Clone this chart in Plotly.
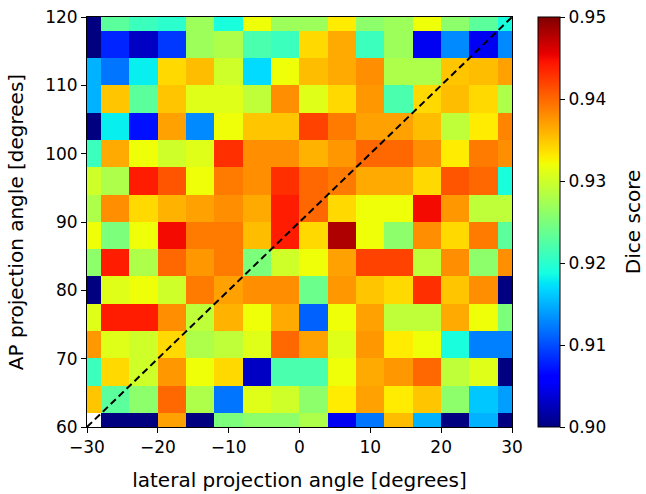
import numpy as np
import plotly.graph_objects as go

# lateral (x) and AP (y) angles of the cell centres, degrees
lateral_angles = [-30, -26, -22, -18, -14, -10, -6, -2, 2, 6, 10, 14, 18, 22, 26, 30]
ap_angles = [60, 64, 68, 72, 76, 80, 84, 88, 92, 96, 100, 104, 108, 112, 116, 120]

# dice scores, one row per AP angle (bottom row first)
dice_60 = [np.nan, 0.900, 0.900, 0.937, 0.900, 0.925, 0.926, 0.926, 0.928, 0.905, 0.912, 0.9355, 0.915, 0.900, 0.915, 0.900]
dice_64 = [0.935, 0.923, 0.926, 0.940, 0.928, 0.912, 0.931, 0.930, 0.926, 0.933, 0.937, 0.933, 0.935, 0.926, 0.916, 0.914]
dice_68 = [0.921, 0.934, 0.930, 0.9375, 0.932, 0.934, 0.903, 0.922, 0.922, 0.932, 0.9365, 0.9375, 0.940, 0.929, 0.931, 0.900]
dice_72 = [0.9375, 0.931, 0.930, 0.934, 0.928, 0.929, 0.931, 0.940, 0.937, 0.931, 0.9375, 0.933, 0.932, 0.919, 0.9125, 0.9125]
dice_76 = [0.931, 0.944, 0.944, 0.938, 0.929, 0.936, 0.932, 0.9365, 0.911, 0.932, 0.937, 0.929, 0.929, 0.9365, 0.932, 0.925]
dice_80 = [0.900, 0.931, 0.932, 0.930, 0.939, 0.937, 0.938, 0.938, 0.924, 0.9375, 0.935, 0.934, 0.943, 0.935, 0.938, 0.900]
dice_84 = [0.926, 0.944, 0.928, 0.940, 0.9375, 0.939, 0.925, 0.930, 0.932, 0.937, 0.942, 0.942, 0.929, 0.938, 0.926, 0.938]
dice_88 = [0.932, 0.925, 0.932, 0.945, 0.939, 0.939, 0.9355, 0.944, 0.934, 0.948, 0.932, 0.926, 0.938, 0.934, 0.939, 0.923]
dice_92 = [0.928, 0.938, 0.934, 0.936, 0.937, 0.938, 0.9365, 0.944, 0.940, 0.934, 0.932, 0.932, 0.945, 0.9375, 0.929, 0.929]
dice_96 = [0.930, 0.928, 0.944, 0.941, 0.932, 0.939, 0.938, 0.943, 0.940, 0.939, 0.9365, 0.9365, 0.934, 0.941, 0.940, 0.919]
dice_100 = [0.921, 0.9365, 0.932, 0.930, 0.931, 0.943, 0.938, 0.938, 0.936, 0.9375, 0.940, 0.940, 0.938, 0.933, 0.939, 0.938]
dice_104 = [0.900, 0.918, 0.907, 0.937, 0.913, 0.932, 0.935, 0.935, 0.942, 0.939, 0.937, 0.937, 0.9355, 0.929, 0.933, 0.9385]
dice_108 = [0.915, 0.935, 0.923, 0.935, 0.931, 0.931, 0.929, 0.938, 0.931, 0.934, 0.9375, 0.922, 0.934, 0.9355, 0.934, 0.928]
dice_112 = [0.915, 0.912, 0.918, 0.934, 0.9355, 0.930, 0.917, 0.932, 0.9355, 0.9365, 0.938, 0.928, 0.928, 0.935, 0.9355, 0.937]
dice_116 = [0.900, 0.908, 0.903, 0.909, 0.927, 0.928, 0.922, 0.921, 0.934, 0.9365, 0.921, 0.927, 0.905, 0.913, 0.905, 0.913]
dice_120 = [0.900, 0.923, 0.921, 0.920, 0.927, 0.919, 0.932, 0.927, 0.927, 0.933, 0.926, 0.927, 0.932, 0.926, 0.923, 0.919]

x_ticks = [-30, -20, -10, 0, 10, 20, 30]
x_ticktext = ["\u221230", "\u221220", "\u221210", "0", "10", "20", "30"]
y_ticks = [60, 70, 80, 90, 100, 110, 120]
cbar_ticks = [0.90, 0.91, 0.92, 0.93, 0.94, 0.95]
cbar_ticktext = ["0.90", "0.91", "0.92", "0.93", "0.94", "0.95"]

# diagonal reference line
diag_x = [-30, 30]
diag_y = [60, 120]

z = [dice_60, dice_64, dice_68, dice_72, dice_76, dice_80, dice_84, dice_88,
     dice_92, dice_96, dice_100, dice_104, dice_108, dice_112, dice_116, dice_120]

# matplotlib "jet" colormap
jet_r = [(0, 0), (0.35, 0), (0.66, 1), (0.89, 1), (1, 0.5)]
jet_g = [(0, 0), (0.125, 0), (0.375, 1), (0.64, 1), (0.91, 0), (1, 0)]
jet_b = [(0, 0.5), (0.11, 1), (0.34, 1), (0.65, 0), (1, 0)]
stops = sorted(set([p for p, _ in jet_r + jet_g + jet_b]))
jet = []
for s in stops:
    r = np.interp(s, [p for p, _ in jet_r], [v for _, v in jet_r])
    g = np.interp(s, [p for p, _ in jet_g], [v for _, v in jet_g])
    b = np.interp(s, [p for p, _ in jet_b], [v for _, v in jet_b])
    jet.append([s, "rgb(%d,%d,%d)" % (round(r * 255), round(g * 255), round(b * 255))])

font = "DejaVu Sans"

fig = go.Figure()
fig.add_trace(go.Heatmap(
    x=lateral_angles, y=ap_angles, z=z,
    colorscale=jet, zmin=0.90, zmax=0.95,
    colorbar=dict(
        x=1.061, xanchor="left", xpad=0, y=0.5, yanchor="middle", ypad=0,
        len=1, lenmode="fraction", thickness=22,
        outlinewidth=1, outlinecolor="black",
        ticks="outside", ticklen=5, tickcolor="black",
        tickvals=cbar_ticks, ticktext=cbar_ticktext,
        ticklabeloverflow="allow",
        tickfont=dict(family=font, size=17, color="black"),
    ),
    hoverongaps=False,
))
fig.add_trace(go.Scatter(
    x=diag_x, y=diag_y, mode="lines",
    line=dict(color="black", width=2, dash="7px,4px"),
    showlegend=False,
))

# colorbar label
fig.add_annotation(
    text="Dice score", textangle=-90, showarrow=False,
    xref="paper", yref="paper", x=1.285, y=0.5,
    xanchor="center", yanchor="middle",
    font=dict(family=font, size=20, color="black"),
)

fig.update_layout(
    width=646, height=494,
    margin=dict(l=87, r=134, t=7, b=64),
    paper_bgcolor="white", plot_bgcolor="white",
    font=dict(family=font, color="black"),
    showlegend=False,
)
fig.update_xaxes(
    range=[-30, 30], tickvals=x_ticks, ticktext=x_ticktext,
    ticks="outside", ticklen=5, tickcolor="black",
    showline=True, mirror=True, linecolor="black", linewidth=1,
    showgrid=False, zeroline=False, ticklabeloverflow="allow",
    tickfont=dict(family=font, size=17),
    title=dict(text="lateral projection angle [degrees]", font=dict(family=font, size=20), standoff=16),
)
fig.update_yaxes(
    range=[60, 120], tickvals=y_ticks,
    ticks="outside", ticklen=5, tickcolor="black",
    showline=True, mirror=True, linecolor="black", linewidth=1,
    showgrid=False, zeroline=False, ticklabeloverflow="allow",
    tickfont=dict(family=font, size=17),
    title=dict(text="AP projection angle [degrees]", font=dict(family=font, size=20), standoff=16),
)

fig.write_html("out.html", config={"displayModeBar": False},
               post_script="document.body.style.margin='0';")
